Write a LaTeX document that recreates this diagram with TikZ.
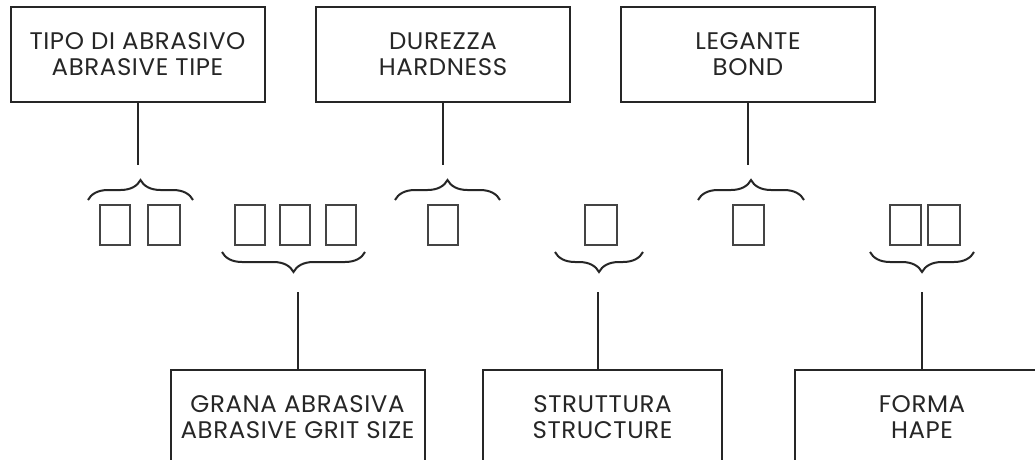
\documentclass[tikz,border=0pt]{standalone}
\usepackage{fontspec}
\setmainfont{Poppins}[FakeStretch=1.02, LetterSpace=2.5]
\usetikzlibrary{decorations.pathreplacing}
\definecolor{ink}{HTML}{262626}
\definecolor{sq}{HTML}{444444}
\tikzset{
  labelbox/.style={draw=ink, line width=2pt, minimum width=254pt, minimum height=95pt,
    align=center, text=ink, font=\fontsize{24}{26}\selectfont, inner sep=0pt},
  cell/.style={draw=sq, line width=1.6pt, minimum width=30pt, minimum height=40pt, inner sep=0pt},
  link/.style={draw=ink, line width=2pt},
  bracetop/.style={draw=ink, line width=2pt, decorate, decoration={brace, amplitude=20pt}},
}
\begin{document}
\begin{tikzpicture}[x=1pt,y=-1pt]
\useasboundingbox (0,0) rectangle (1035,460);
\clip (0,0) rectangle (1035,460);
\fill[white] (0,0) rectangle (1035,460);
% top boxes
\node[labelbox] (tipo) at (137.5,54.5) {TIPO DI ABRASIVO\\ABRASIVE TIPE};
\node[labelbox] (dur) at (443,54.5) {DUREZZA\\HARDNESS};
\node[labelbox] (leg) at (748,54.5) {LEGANTE\\BOND};
% bottom boxes
\node[labelbox] (grana) at (297.5,417.5) {GRANA ABRASIVA\\ABRASIVE GRIT SIZE};
\node[labelbox, minimum width=239pt] (strut) at (602.5,417.5) {STRUTTURA\\STRUCTURE};
\node[labelbox] (forma) at (922,417.5) {FORMA\\HAPE};
% cells
\node[cell] (s1) at (115,225) {};
\node[cell, minimum width=32pt] (s2) at (164,225) {};
\node[cell] (s3) at (250,225) {};
\node[cell] (s4) at (295,225) {};
\node[cell] (s5) at (341,225) {};
\node[cell] (s6) at (443,225) {};
\node[cell, minimum width=32pt] (s7) at (601,225) {};
\node[cell, minimum width=31pt] (s8) at (748.5,225) {};
\node[cell, minimum width=31pt] (s9) at (905.5,225) {};
\node[cell, minimum width=32pt] (s10) at (944,225) {};
% braces
\draw[bracetop] (88,200) -- (193,200);
\draw[bracetop] (395,200) -- (500,200);
\draw[bracetop] (698,200) -- (804,200);
\draw[bracetop] (365,252) -- (222,252);
\draw[bracetop] (643,252) -- (555,252);
\draw[bracetop] (974,252) -- (870,252);
% connector ends
\coordinate (t1) at (137.5,165);
\coordinate (t2) at (443,165);
\coordinate (t3) at (748,165);
\coordinate (b1) at (297.5,292);
\coordinate (b2) at (598,292);
\coordinate (b3) at (922,292);
\draw[link] (tipo.south) -- (t1);
\draw[link] (dur.south) -- (t2);
\draw[link] (leg.south) -- (t3);
\draw[link] (b1) -- (grana.north);
\draw[link] (b2) -- (b2 |- strut.north);
\draw[link] (b3) -- (forma.north);
\end{tikzpicture}
\end{document}
